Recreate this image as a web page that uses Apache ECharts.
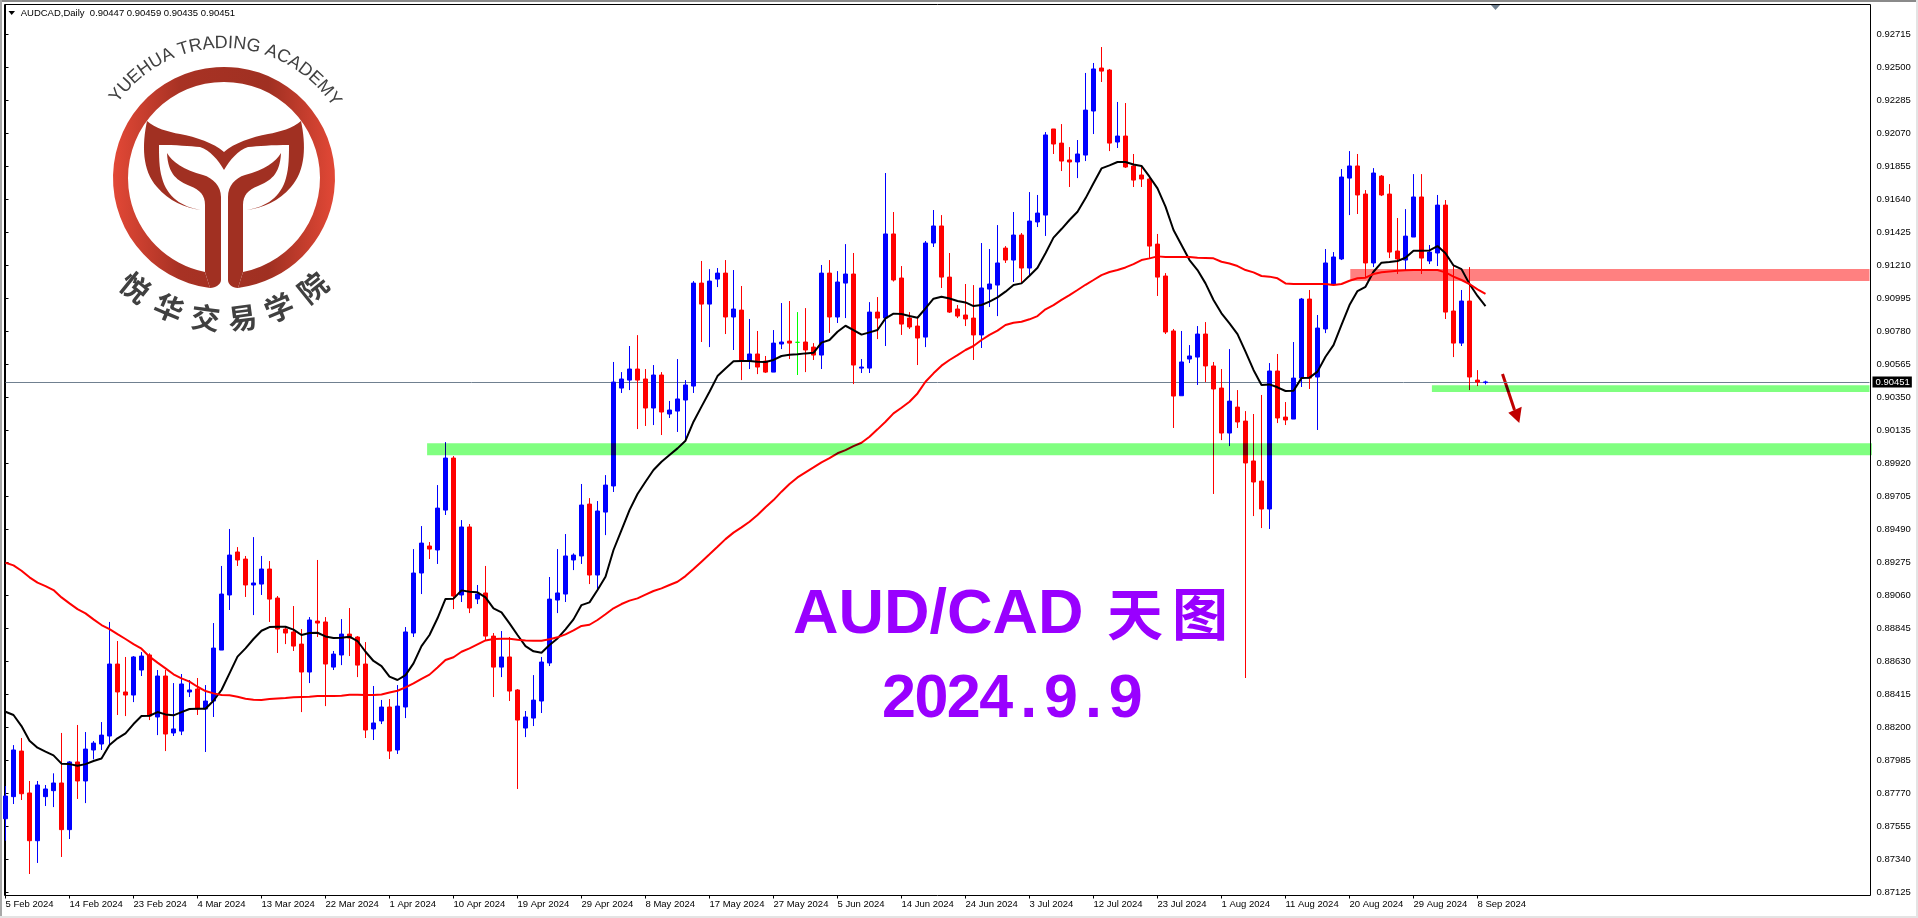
<!DOCTYPE html>
<html>
<head>
<meta charset="utf-8">
<title>AUDCAD Daily</title>
<script src="https://cdn.jsdelivr.net/npm/echarts@6/dist/echarts.min.js"></script>
<style>
    * { margin: 0; padding: 0; }
    html, body { width: 100%; height: 100%; background: #fff; overflow: hidden; }
    #main { width: 1918px; height: 918px; }
    /* the zones sit on their own canvas and darken what is under them */
    canvas[data-zr-dom-id="zr_1"] { mix-blend-mode: multiply; }
</style>
</head>
<body>
<div id="main"></div>
<script>
    // daily bars
    const opens = [
        .87605,.87749,.88046,.87773,.87462,.87749,.87788,.87838,.87534,.87975,
        .87851,.88053,.88092,.88144,.88613,.88431,.88411,.88574,.88672,.88268,
        .88535,.88164,.88176,.88431,.88450,.88320,.88372,.88704,.89063,.89343,
        .89297,.89128,.89134,.89232,.89043,.88841,.88822,.88743,.88561,.88893,
        .88887,.88593,.88672,.88808,.88789,.88613,.88190,.88242,.88333,.88053,
        .88333,.88815,.89206,.89382,.89356,.89616,.89955,.89063,.89506,.89037,
        .89076,.88795,.88593,.88659,.88444,.88196,.88261,.88372,.88620,.89030,
        .89069,.89291,.89317,.89655,.89193,.89603,.89773,.90411,.90463,.90535,
        .90470,.90281,.90496,.90242,.90261,.90333,.90424,.91095,.90958,.91121,
        .91160,.90874,.90919,.90587,.90633,.90587,.90515,.90698,.90717,.90709,
        .90711,.90678,.90626,.91160,.90874,.91095,.91154,.90541,.90541,.90906,
        .90867,.91415,.91128,.90867,.90815,.90743,.91356,.91467,.91134,.90926,
        .90887,.90867,.90757,.91056,.91082,.91323,.91245,.91408,.91193,.91493,
        .91538,.92099,.92007,.91897,.91884,.91929,.92216,.92496,.92483,.92014,
        .92053,.91858,.91799,.91773,.91349,.91141,.90783,.90361,.90600,.90613,
        .90763,.90555,.90411,.90118,.90287,.90196,.89936,.89805,.89623,.90522,
        .90222,.90209,.90476,.90991,.90483,.90796,.91089,.91252,.91779,.91858,
        .91675,.91226,.91792,.91675,.91304,.91245,.91395,.91656,.91239,.91291,
        .91603,.90913,.90704,.90978,.90463,.90447
    ]
    const highs = [
        .87818,.88085,.88131,.87851,.87851,.87825,.87901,.88164,.87981,.88216,
        .88170,.88111,.88235,.88887,.88763,.88659,.88665,.88691,.88683,.88574,
        .88574,.88489,.88548,.88509,.88522,.88476,.88880,.89252,.89493,.89375,
        .89317,.89440,.89317,.89284,.89056,.88856,.88991,.88841,.88919,.89291,
        .88919,.88698,.88906,.88978,.88795,.88756,.88470,.88379,.88385,.88476,
        .88854,.89362,.89512,.89408,.89779,.90059,.89968,.89551,.89525,.89128,
        .89252,.88815,.88828,.88789,.88450,.88307,.88541,.88659,.89180,.89362,
        .89460,.89334,.89786,.89694,.89675,.89844,.90581,.90515,.90685,.90756,
        .90535,.90561,.90515,.90327,.90600,.90463,.91108,.91239,.91186,.91193,
        .91245,.91180,.91076,.90861,.90783,.90620,.90789,.90965,.90978,.90906,
        .90932,.90704,.91213,.91245,.91173,.91349,.91291,.90600,.90971,.91004,
        .91812,.91558,.91206,.90906,.90867,.91369,.91571,.91538,.91291,.90952,
        .91089,.91082,.91356,.91317,.91473,.91336,.91558,.91421,.91688,.91669,
        .92079,.92099,.92131,.91981,.92027,.92464,.92529,.92633,.92490,.92275,
        .92268,.91936,.91858,.91779,.91415,.91160,.90796,.90783,.90691,.90815,
        .90841,.90581,.90535,.90665,.90398,.90261,.90242,.90366,.90574,.90633,
        .90320,.90711,.90998,.91050,.90887,.91317,.91297,.91838,.91955,.91936,
        .91701,.91844,.91799,.91740,.91519,.91577,.91805,.91805,.91343,.91669,
        .91636,.91212,.91050,.91199,.90528,.90459
    ]
    const lows = [
        .87462,.87701,.87727,.87245,.87317,.87688,.87681,.87356,.87473,.87734,
        .87707,.87992,.88053,.88079,.88281,.88274,.88365,.88535,.88248,.88150,
        .88046,.88144,.88150,.88398,.88281,.88040,.88268,.88704,.88965,.89252,
        .89050,.88932,.89063,.88887,.88685,.88743,.88698,.88300,.88489,.88789,
        .88339,.88574,.88606,.88665,.88528,.88131,.88118,.88222,.87994,.88027,
        .88261,.88789,.89069,.89297,.89265,.89584,.88971,.89017,.88945,.89004,
        .88763,.88398,.88528,.88372,.87799,.88137,.88209,.88294,.88600,.88945,
        .89017,.89225,.89265,.89134,.89095,.89453,.89734,.90379,.90398,.90144,
        .90164,.90170,.90105,.90216,.90125,.90066,.90379,.90711,.90678,.91069,
        .90763,.90659,.90463,.90535,.90502,.90509,.90515,.90665,.90600,.90496,
        .90515,.90594,.90535,.90770,.90835,.90867,.90437,.90509,.90509,.90730,
        .90685,.91105,.90757,.90796,.90561,.90678,.91330,.91063,.90900,.90867,
        .90815,.90594,.90672,.90939,.90880,.91226,.91102,.91095,.91141,.91460,
        .91402,.91936,.91825,.91721,.91779,.91890,.92066,.92405,.91955,.91975,
        .91845,.91721,.91721,.91258,.91011,.90763,.90151,.90361,.90574,.90431,
        .90450,.89721,.90072,.90033,.90151,.88522,.89577,.89499,.89493,.90183,
        .90170,.90209,.90418,.90405,.90138,.90769,.91082,.91245,.91538,.91545,
        .91128,.91199,.91662,.91258,.91154,.91180,.91395,.91154,.91219,.91206,
        .90861,.90613,.90685,.90398,.90424,.90435
    ]
    const closes = [
        .87753,.88053,.87768,.87462,.87825,.87799,.87838,.87534,.87975,.87851,
        .88059,.88098,.88150,.88613,.88431,.88411,.88659,.88665,.88274,.88535,
        .88157,.88190,.88483,.88444,.88320,.88372,.88717,.89069,.89323,.89291,
        .89128,.89141,.89232,.89036,.88841,.88815,.88730,.88561,.88900,.88880,
        .88613,.88678,.88808,.88782,.88606,.88183,.88229,.88333,.88046,.88339,
        .88822,.89206,.89401,.89362,.89629,.89955,.89056,.89506,.88978,.89069,
        .88795,.88593,.88659,.88437,.88248,.88268,.88378,.88626,.89036,.89076,
        .89317,.89323,.89649,.89193,.89610,.89779,.90450,.90470,.90535,.90463,
        .90281,.90496,.90255,.90268,.90340,.90431,.91095,.90958,.91108,.91160,
        .90874,.90926,.90587,.90633,.90548,.90515,.90704,.90711,.90704,.90709,
        .90659,.90626,.91160,.90874,.91102,.91154,.90561,.90548,.90906,.90867,
        .91415,.91115,.90828,.90809,.90737,.91356,.91467,.91134,.90906,.90880,
        .90861,.90757,.91063,.91089,.91226,.91245,.91408,.91193,.91499,.91551,
        .92060,.92001,.91890,.91884,.91936,.92222,.92490,.92476,.92007,.92053,
        .91851,.91766,.91773,.91336,.91134,.90776,.90359,.90581,.90620,.90763,
        .90555,.90405,.90118,.90326,.90190,.89923,.89799,.89623,.90522,.90216,
        .90203,.90476,.90991,.90476,.90802,.91226,.91265,.91786,.91858,.91669,
        .91226,.91812,.91669,.91297,.91252,.91401,.91656,.91258,.91297,.91603,
        .90906,.90704,.90978,.90483,.90450,.90451
    ]
    // black moving average
    const maFast = [
        .88302,.88281,.88209,.88113,.88068,.88042,.88018,.87964,.87961,.87951,
        .87961,.87981,.87998,.88085,.88129,.88161,.88222,.88274,.88276,.88300,
        .88285,.88279,.88300,.88320,.88322,.88322,.88374,.88444,.88552,.88661,
        .88715,.88776,.88830,.88854,.88856,.88856,.88837,.88802,.88815,.88817,
        .88793,.88782,.88785,.88791,.88763,.88693,.88633,.88600,.88531,.88509,
        .88541,.88617,.88730,.88802,.88911,.89037,.89039,.89093,.89084,.89080,
        .89047,.88976,.88950,.88878,.88802,.88730,.88696,.88687,.88737,.88780,
        .88839,.88904,.88997,.89015,.89095,.89182,.89356,.89486,.89616,.89721,
        .89801,.89877,.89931,.89975,.90018,.90068,.90192,.90290,.90387,.90489,
        .90539,.90585,.90587,.90587,.90583,.90581,.90594,.90620,.90628,.90631,
        .90637,.90641,.90707,.90724,.90778,.90817,.90789,.90759,.90774,.90789,
        .90865,.90896,.90893,.90880,.90869,.90930,.90993,.91006,.90995,.90978,
        .90969,.90945,.90952,.90974,.91002,.91039,.91082,.91093,.91143,.91195,
        .91289,.91391,.91447,.91506,.91560,.91647,.91745,.91842,.91862,.91884,
        .91884,.91868,.91858,.91788,.91712,.91593,.91441,.91343,.91245,.91180,
        .91093,.90985,.90898,.90832,.90763,.90648,.90529,.90431,.90435,.90416,
        .90392,.90394,.90476,.90479,.90518,.90615,.90691,.90822,.90952,.91043,
        .91071,.91169,.91228,.91232,.91239,.91260,.91306,.91306,.91308,.91336,
        .91289,.91210,.91186,.91089,.91011,.90945
    ]
    // red moving average
    const maSlow = [
        .89273,.89256,.89221,.89178,.89143,.89121,.89095,.89047,.89008,.88971,
        .88943,.88904,.88867,.88841,.88808,.88776,.88743,.88713,.88661,.88622,
        .88585,.88546,.88520,.88498,.88465,.88437,.88422,.88411,.88409,.88400,
        .88387,.88381,.88379,.88385,.88389,.88392,.88396,.88398,.88400,.88405,
        .88405,.88405,.88407,.88413,.88413,.88411,.88411,.88415,.88428,.88439,
        .88461,.88487,.88517,.88544,.88591,.88639,.88657,.88693,.88715,.88741,
        .88767,.88776,.88778,.88778,.88772,.88767,.88765,.88765,.88774,.88787,
        .88806,.88832,.88861,.88869,.88900,.88937,.88976,.89004,.89026,.89041,
        .89065,.89089,.89106,.89128,.89149,.89186,.89232,.89280,.89328,.89377,
        .89427,.89469,.89503,.89540,.89584,.89634,.89681,.89736,.89786,.89829,
        .89862,.89894,.89927,.89955,.89986,.90007,.90033,.90055,.90094,.90142,
        .90192,.90246,.90283,.90322,.90376,.90452,.90507,.90557,.90594,.90626,
        .90659,.90685,.90724,.90757,.90785,.90822,.90837,.90843,.90859,.90880,
        .90924,.90952,.90985,.91017,.91050,.91084,.91115,.91147,.91167,.91180,
        .91197,.91219,.91245,.91256,.91269,.91265,.91265,.91265,.91265,.91260,
        .91258,.91256,.91234,.91223,.91206,.91180,.91165,.91141,.91137,.91126,
        .91093,.91089,.91089,.91089,.91089,.91089,.91082,.91089,.91110,.91126,
        .91130,.91154,.91165,.91171,.91176,.91178,.91180,.91180,.91180,.91180,
        .91165,.91137,.91115,.91089,.91054,.91024
    ]
    const xLabels = ['5 Feb 2024', '14 Feb 2024', '23 Feb 2024', '4 Mar 2024', '13 Mar 2024', '22 Mar 2024',
        '1 Apr 2024', '10 Apr 2024', '19 Apr 2024', '29 Apr 2024', '8 May 2024', '17 May 2024', '27 May 2024',
        '5 Jun 2024', '14 Jun 2024', '24 Jun 2024', '3 Jul 2024', '12 Jul 2024', '23 Jul 2024', '1 Aug 2024',
        '11 Aug 2024', '20 Aug 2024', '29 Aug 2024', '8 Sep 2024']
    const priceTicks = [.87125, .87340, .87555, .87770, .87985, .88200, .88415, .88630, .88845, .89060, .89275,
        .89490, .89705, .89920, .90135, .90350, .90565, .90780, .90995, .91210, .91425, .91640, .91855, .92070,
        .92285, .92500, .92715]
    const lastPrice = 0.90451
    // [first bar, last bar, low, high]
    const greenZones = [[52.7, 233.3, .89974, .90052], [178.3, 233, .90385, .90430]]
    const redZones = [[168.1, 233, .91108, .91186]]

    const barSlots = 234 // empty room on the right, like the terminal's chart shift
    const categories = []
    for (let i = 0; i < barSlots; i++) categories.push(String(i))
    const candleData = opens.map((o, i) => [o, closes[i], lows[i], highs[i]])
    const zoneData = greenZones.map(z => z.concat(0)).concat(redZones.map(z => z.concat(1)))

    const font = '"Liberation Sans"'
    const zoneColors = ['#80ff80', '#ff8080']

    // logo
    const logoX = 224, logoY = 178
    function regPath(name, d) {
        echarts.graphic.registerShape(name, echarts.graphic.extendPath(d, {}))
    }
    regPath('logoRing', 'M210,288 A111,111 0 1 1 238,288 L243,272 A96,96 0 1 0 205,272 Z')
    regPath('logoTail', 'M147,121 C155,128 168,132 180,134 C196,137 214,143 224,152 C234,143 252,137 268,134 C280,132 293,128 301,121 C306,145 306,170 291,187 C279,201 263,208 247,210 C266,207 281,197 286,178 C289,168 289,155 289,145 C272,145 258,146 248,147 C238,150 230,160 224,170 C218,160 210,150 200,147 C190,146 176,145 159,145 C159,155 159,168 162,178 C167,197 182,207 201,210 C185,208 169,201 157,187 C142,170 142,145 147,121 Z')
    regPath('logoStemL', 'M167,153 C172,162 184,170 203,175 C213,178 221,186 221,197 L221,280 C221,284 216,288 210,288 L205,272 L205,205 C205,195 200,190 190,186 C178,181 168,175 167,153 Z')
    regPath('logoStemR', 'M281,153 C276,162 264,170 245,175 C235,178 228,186 228,197 L228,280 C228,284 232,288 238,288 L243,272 L243,205 C243,195 248,190 258,186 C270,181 280,175 281,153 Z')

    function arcLetters(text, radius, fromDeg, toDeg, fontStr) {
        let ctx = document.createElement('canvas').getContext('2d')
        ctx.font = fontStr
        let chars = text.split('')
        let widths = chars.map(c => ctx.measureText(c).width)
        let total = widths.reduce((a, b) => a + b, 0)
        let run = 0
        return chars.map((c, i) => {
            let a = (fromDeg + (toDeg - fromDeg) * (run + widths[i] / 2) / total) * Math.PI / 180
            run += widths[i]
            return {
                type: 'text',
                x: logoX + radius * Math.sin(a),
                y: logoY - radius * Math.cos(a),
                rotation: -a,
                style: {text: c, font: fontStr, fill: '#404040', textAlign: 'center', textVerticalAlign: 'middle'}
            }
        })
    }
    const ringFill = {
        type: 'linear', x: 0, y: 0, x2: 1, y2: 0,
        colorStops: [{offset: 0, color: '#e24836'}, {offset: 0.3, color: '#a83224'},
            {offset: 0.7, color: '#a03022'}, {offset: 1, color: '#e24836'}]
    }
    const logo = [
        {type: 'logoRing', style: {fill: ringFill}},
        {type: 'logoTail', style: {fill: '#a13022'}},
        {type: 'logoStemL', style: {fill: '#a13022'}},
        {type: 'logoStemR', style: {fill: '#a13022'}}
    ].concat(arcLetters('YUEHUA TRADING ACADEMY', 135, -55, 57, '18px ' + font))

    // hanzi are spaced evenly, so they are placed one by one
    const hanzi = '悦华交易学院'.split('')
    const hanziAngles = [-39, -23, -7.5, 7.5, 23, 39]
    const logoHan = hanzi.map((c, i) => {
        let a = hanziAngles[i] * Math.PI / 180
        return {
            type: 'text', x: logoX + 141 * Math.sin(a), y: logoY + 141 * Math.cos(a), rotation: a,
            style: {text: c, font: 'bold 29px "Noto Sans CJK SC"', fill: '#404040', textAlign: 'center', textVerticalAlign: 'middle'}
        }
    })

    // big purple caption, the date has wide fixed pitch
    const purple = '#9900ff'
    const dateText = '2024.9.9'.split('').map((c, i) => ({
        type: 'text', x: 899 + 32.4 * i, y: 700,
        style: {text: c, font: 'bold 61px ' + font, fill: purple, textAlign: 'center', textVerticalAlign: 'middle'}
    }))
    const caption = [
        {type: 'text', x: 793, y: 616, style: {text: 'AUD/CAD', font: 'bold 63px ' + font, fill: purple, textAlign: 'left', textVerticalAlign: 'middle'}},
        {type: 'text', x: 1135, y: 614, style: {text: '天', font: 'bold 56px "Noto Sans CJK SC"', fill: purple, textAlign: 'center', textVerticalAlign: 'middle'}},
        {type: 'text', x: 1200, y: 614, style: {text: '图', font: 'bold 56px "Noto Sans CJK SC"', fill: purple, textAlign: 'center', textVerticalAlign: 'middle'}}
    ].concat(dateText)

    const frame = [
        {type: 'rect', shape: {x: 0, y: 0, width: 1918, height: 2}, style: {fill: '#8a8a8a'}},
        {type: 'rect', shape: {x: 0, y: 0, width: 2, height: 918}, style: {fill: '#a8a8a8'}},
        {type: 'rect', shape: {x: 0, y: 916, width: 1918, height: 2}, style: {fill: '#e4e4e4'}},
        {type: 'rect', shape: {x: 1916, y: 0, width: 2, height: 918}, style: {fill: '#e4e4e4'}},
        {type: 'rect', shape: {x: 4.5, y: 4.5, width: 1866, height: 891}, style: {fill: 'none', stroke: '#000', lineWidth: 1}},
        // shift marker on the top edge
        {type: 'polygon', shape: {points: [[1491, 5], [1500, 5], [1495.5, 10]]}, style: {fill: '#708090'}},
        // menu triangle next to the symbol
        {type: 'polygon', shape: {points: [[8.5, 11], [15, 11], [11.7, 15]]}, style: {fill: '#000'}},
        // arrow
        {type: 'line', shape: {x1: 1502.5, y1: 374, x2: 1514.5, y2: 410}, style: {stroke: '#c00000', lineWidth: 3}},
        {type: 'polygon', shape: {points: [[1508.3, 412.7], [1521.7, 406.7], [1519.3, 423]]}, style: {fill: '#c00000'}}
    ]

    let myChart = echarts.init(document.getElementById('main'), null, {renderer: 'canvas'})
    let option = {
        animation: false,
        backgroundColor: '#fff',
        title: {
            text: 'AUDCAD,Daily  0.90447 0.90459 0.90435 0.90451',
            left: 20.7, top: 8, padding: 0,
            textStyle: {fontFamily: font, fontSize: 9.5, fontWeight: 'normal', color: '#000'}
        },
        grid: {left: 5.5, top: 4.5, width: 1864, height: 891, show: false},
        xAxis: [
            {
                type: 'category',
                data: categories,
                boundaryGap: false,
                axisLine: {show: false},
                axisTick: {
                    show: true, length: 3, lineStyle: {color: '#000'},
                    interval: i => i % 8 === 0 && i / 8 < xLabels.length
                },
                axisLabel: {
                    interval: i => i % 8 === 0 && i / 8 < xLabels.length,
                    formatter: v => xLabels[Number(v) / 8] || '',
                    align: 'left', margin: 4,
                    fontFamily: font, fontSize: 9.5, color: '#000'
                },
                splitLine: {show: false}
            },
            // same width as the bars, takes fractional bar positions for the zones
            {type: 'value', min: 0, max: barSlots - 1, show: false, splitLine: {show: false}}
        ],
        yAxis: {
            type: 'value',
            position: 'right',
            offset: 1,
            min: 0.87105,
            max: 0.92910,
            axisLine: {show: true, lineStyle: {color: '#000'}},
            axisTick: {show: true, length: 3, customValues: priceTicks, lineStyle: {color: '#000'}},
            axisLabel: {
                customValues: priceTicks,
                formatter: v => v.toFixed(5),
                margin: 6,
                fontFamily: font, fontSize: 9.5, color: '#000'
            },
            splitLine: {show: false}
        },
        graphic: {elements: frame.concat(logo, logoHan, caption)},
        series: [
            {
                name: 'AUDCAD',
                type: 'candlestick',
                xAxisIndex: 0,
                barWidth: 4,
                z: 3,
                itemStyle: {
                    color: '#0000ff', color0: '#ff0000',
                    borderColor: '#0000ff', borderColor0: '#ff0000',
                    borderColorDoji: '#00ff00',
                    borderWidth: 1
                },
                data: candleData
            },
            {
                name: 'maFast', type: 'line', xAxisIndex: 0, data: maFast, z: 4,
                showSymbol: false, smooth: false, lineStyle: {color: '#000', width: 2},
                markLine: {
                    silent: true,
                    z: 2,
                    precision: 5,
                    symbol: 'none',
                    animation: false,
                    lineStyle: {color: '#708090', width: 1, type: 'solid'},
                    label: {
                        show: true, position: 'end', distance: 3,
                        formatter: lastPrice.toFixed(5),
                        color: '#fff', backgroundColor: '#000', padding: [1, 2, 0, 3],
                        fontFamily: font, fontSize: 9.5
                    },
                    emphasis: {disabled: true},
                    data: [{yAxis: lastPrice}]
                }
            },
            {
                name: 'maSlow', type: 'line', xAxisIndex: 0, data: maSlow, z: 4,
                showSymbol: false, smooth: false, lineStyle: {color: '#ff0000', width: 2}
            },
            {
                name: 'zones',
                type: 'custom',
                xAxisIndex: 1,
                zlevel: 1,
                clip: false,
                silent: true,
                encode: {x: [0, 1], y: [2, 3]},
                renderItem: function (params, api) {
                    let p0 = api.coord([api.value(0), api.value(3)])
                    let p1 = api.coord([api.value(1), api.value(2)])
                    return {
                        type: 'rect',
                        shape: {x: p0[0], y: p0[1], width: p1[0] - p0[0], height: p1[1] - p0[1]},
                        style: {fill: zoneColors[api.value(4)]}
                    }
                },
                data: zoneData
            }
        ]
    }
    myChart.setOption(option)
</script>
</body>
</html>
